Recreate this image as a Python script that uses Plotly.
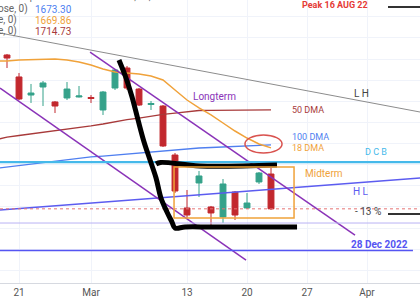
import plotly.graph_objects as go

# ---------------- data ----------------
bar_idx = list(range(-1, 22))
opens = [1779.8, 1753.8, 1732.4, 1741.9, 1724.2, 1728.9, 1730.1, 1729.5, 1714.7, 1740.7, 1764.4, 1739.5,
         1721.2, 1719.4, 1661.4, 1598.7, 1628.3, 1599.9, 1588.0, 1617.6, 1598.7, 1629.5, 1638.9]
highs = [1781.0, 1758.5, 1745.5, 1749.0, 1725.3, 1747.8, 1743.1, 1732.4, 1737.2, 1763.2, 1766.8, 1740.7,
         1725.3, 1720.6, 1663.8, 1620.0, 1642.5, 1601.1, 1633.0, 1618.8, 1616.4, 1641.3, 1646.0]
lows = [1764.4, 1726.5, 1723.0, 1719.4, 1711.1, 1726.5, 1729.5, 1723.0, 1708.8, 1738.4, 1738.4, 1719.4,
        1714.7, 1670.9, 1616.4, 1586.9, 1611.7, 1578.6, 1581.0, 1584.5, 1597.5, 1627.1, 1596.3]
closes = [1776.2, 1727.7, 1734.8, 1746.7, 1719.4, 1739.5, 1731.3, 1728.3, 1736.0, 1762.0, 1740.7, 1720.6,
          1722.4, 1672.1, 1618.8, 1590.4, 1636.6, 1592.8, 1627.1, 1590.4, 1604.6, 1640.1, 1597.7]

ma_idx = list(range(-2, 22))
dma18 = [1772.7, 1772.7, 1773.9, 1774.5, 1775.1, 1775.1, 1773.9, 1771.5, 1767.9, 1763.2, 1759.7, 1758.5,
         1757.3, 1754.9, 1750.2, 1738.4, 1726.5, 1717.1, 1708.8, 1699.3, 1689.8, 1681.5, 1674.4, 1669.86]
dma50 = [1679.2, 1682.7, 1684.5, 1686.3, 1688.1, 1689.8, 1691.6, 1693.4, 1695.8, 1698.1, 1701.1, 1703.4,
         1705.2, 1707.6, 1709.4, 1711.1, 1712.9, 1714.1, 1714.2, 1714.4, 1714.5, 1714.6, 1714.7, 1714.73]
dma100 = [1645.4, 1647.2, 1649.0, 1650.8, 1652.5, 1654.3, 1656.1, 1657.3, 1659.1, 1660.2, 1661.4, 1662.6,
          1664.4, 1665.6, 1666.8, 1667.9, 1669.1, 1669.7, 1670.3, 1670.9, 1671.5, 1672.1, 1672.7, 1673.30]

tick_vals = [0, 6, 14, 19, 24, 29]
tick_text = ["21", "Mar", "13", "20", "27", "Apr"]

# drawn trend lines (bar index, price)
lh_x, lh_y = [-1.58, 33.42], [1805.8, 1712.3]
hl_x, hl_y = [-1.58, 33.42], [1596.3, 1634.2]
purple_up_x, purple_up_y = [5.92, 28.0], [1783.3, 1566.7]
purple_lo_x, purple_lo_y = [-1.58, 18.92], [1740.7, 1537.1]
dcb_level = 1653.1
lav_level = 1580.9
dec28_level = 1548.4
pen1_x = [8.33, 8.92, 9.42, 9.92, 10.42, 10.92, 11.42, 11.83, 12.33, 12.75, 13.0, 13.83, 15.92, 19.25, 23.17]
pen1_y = [1773.9, 1752.6, 1730.1, 1702.9, 1676.8, 1655.5, 1634.2, 1610.5, 1594.0, 1582.1, 1575.0, 1576.2,
          1576.2, 1576.2, 1576.2]
pen2_x = [11.42, 11.8, 15.08, 21.5]
pen2_y = [1650.8, 1652.6, 1648.4, 1649.6]
box_x, box_y = [12.92, 22.92], [1586.9, 1647.2]
ellipse_x, ellipse_y = [18.83, 21.92], [1663.8, 1685.1]
stub_x = [30.75, 33.42]
stub_levels = [1836.6, 1591.6]

X0, X1 = -1.583, 33.417
Y0, Y1 = 1509.9, 1844.9

RED = "#c2282e"
GREEN = "#35a28a"
FONT = "Roboto"

fig = go.Figure()

fig.add_trace(go.Candlestick(
    x=bar_idx, open=opens, high=highs, low=lows, close=closes,
    increasing=dict(line=dict(color=GREEN, width=1), fillcolor=GREEN),
    decreasing=dict(line=dict(color=RED, width=1), fillcolor=RED),
    whiskerwidth=0, showlegend=False, hoverinfo="skip"))


def line(x, y, color, width=1, dash="solid", shape="linear"):
    fig.add_trace(go.Scatter(x=x, y=y, mode="lines", line=dict(color=color, width=width, dash=dash, shape=shape),
                             showlegend=False, hoverinfo="skip"))


line(ma_idx, dma50, "#a83a3a", 1.3)
line(ma_idx, dma100, "#4f7ff0", 1.3)
line(ma_idx, dma18, "#f0a23a", 1.5)
line(lh_x, lh_y, "#8c8c8c", 1)
line(hl_x, hl_y, "#5c5cf0", 1.3)
line(purple_up_x, purple_up_y, "#8a33b8", 1.5)
line(purple_lo_x, purple_lo_y, "#8a33b8", 1.5)
line([X0, X1], [dcb_level, dcb_level], "#45b9ea", 2.2)
line([X0, X1], [lav_level, lav_level], "#b9b2f4", 1)
line([X0, 32.83], [dec28_level, dec28_level], "#5555f2", 1.5)
line([X0, X1], [closes[-1], closes[-1]], "#e57373", 1, dash="dot")
for lv in stub_levels:
    line(stub_x, [lv, lv], "#333333", 2)
line(pen1_x, pen1_y, "#000000", 5, shape="spline")
line(pen2_x, pen2_y, "#000000", 5, shape="spline")

fig.add_shape(type="rect", x0=box_x[0], x1=box_x[1], y0=box_y[0], y1=box_y[1],
              line=dict(color="#f0a23a", width=1.5))
fig.add_shape(type="circle", x0=ellipse_x[0], x1=ellipse_x[1], y0=ellipse_y[0], y1=ellipse_y[1],
              line=dict(color="#d9534f", width=1.5))


def label(text, x, y, color, size=9, bold=False):
    fig.add_annotation(x=x, y=y, text=("<b>%s</b>" % text) if bold else text, showarrow=False,
                       font=dict(color=color, size=size, family=FONT), xanchor="center", yanchor="middle")


label("Longterm", 16.33, 1730.1, "#8a33b8", 10)
label("50 DMA", 24.08, 1714.7, "#a83a3a", 9)
label("100 DMA", 24.25, 1682.7, "#4f7ff0", 9)
label("18 DMA", 24.08, 1669.7, "#f0a23a", 9)
label("D C B", 29.75, 1665.0, "#45b9ea", 9)
label("Midterm", 25.42, 1640.1, "#f0a23a", 10)
label("H L", 28.5, 1618.8, "#5c5cf0", 10)
label("L H", 28.5, 1734.8, "#444444", 10)
label("- 13 %", 29.08, 1595.1, "#444444", 10)
label("28 Dec 2022", 30.08, 1554.9, "#5555f2", 10, bold=True)
label("Peak 16 AUG 22", 26.33, 1839.0, "#e53935", 9, bold=True)

# partially visible legend at top-left (first row is cut by the top edge in the reference)
legend_rows = [
    ("s Completion Total Stock Market, 1D, Cb", "#666666", "O1659.22  H1671.01  L1597.75  C1597.70  −61.52", "#e05050", -2.5, 9),
    ("ose, 0)", "#666666", "1673.30", "#4f7ff0", 9, 10),
    ("e, 0)", "#666666", "1669.86", "#f0a23a", 20, 10),
    ("e, 0)", "#666666", "1714.73", "#a83a3a", 31, 10),
]
for i, (lt, lc, vt, vc, ypx, fs) in enumerate(legend_rows):
    yp = 1 - ypx / 283
    fig.add_annotation(xref="paper", yref="paper", x=0, y=yp, text=lt, showarrow=False, xanchor="left",
                       yanchor="middle", font=dict(color=lc, size=fs, family=FONT), xshift=-4 if i else 2)
    fig.add_annotation(xref="paper", yref="paper", x=(150 if i == 0 else 33) / 420, y=yp, text=vt,
                       showarrow=False, xanchor="left", yanchor="middle",
                       font=dict(color=vc, size=fs, family=FONT))

fig.update_layout(
    width=420, height=300, margin=dict(l=0, r=0, t=0, b=17),
    paper_bgcolor="white", plot_bgcolor="white", boxgap=0.3, showlegend=False,
    xaxis=dict(range=[X0, X1], tickvals=tick_vals, ticktext=tick_text, showgrid=True, gridcolor="#f0f3fa",
               zeroline=False, rangeslider=dict(visible=False), showline=True, linecolor="#d6d9e0",
               tickfont=dict(color="#555555", size=10, family=FONT), ticks=""),
    yaxis=dict(range=[Y0, Y1], dtick=25, showgrid=True, gridcolor="#f0f3fa", zeroline=False,
               showticklabels=False, ticks=""),
)

fig.write_html("out.html")
